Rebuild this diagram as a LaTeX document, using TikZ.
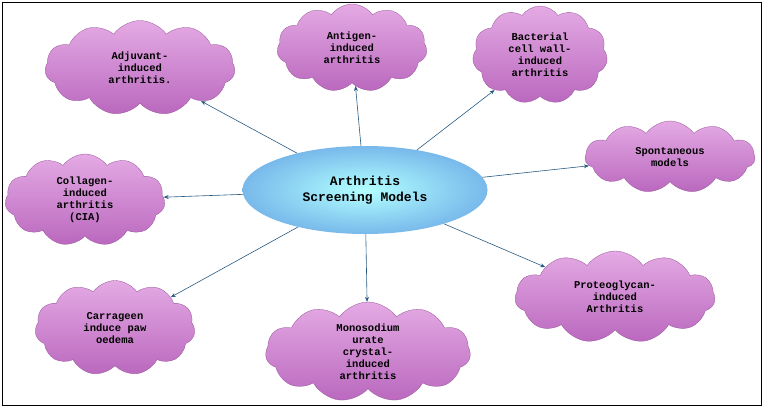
\documentclass[tikz,border=0pt]{standalone}
\usepackage{fontspec}
\setmonofont{Liberation Mono}
\usetikzlibrary{shapes.symbols,shapes.geometric,arrows.meta}
\definecolor{cldA}{RGB}{228,170,228}
\definecolor{cldB}{RGB}{186,104,190}
\definecolor{arr}{RGB}{40,90,130}
\tikzset{
 cld/.style={cloud, cloud puffs=11, cloud puff arc=110, aspect=2, draw=cldB!80!black, line width=0.3pt,
   top color=cldA, bottom color=cldB, align=center, font=\ttfamily\bfseries\fontsize{10.5}{12}\selectfont, inner sep=0pt},
 conn/.style={draw=arr, line width=0.6pt, -{Stealth[length=5pt,width=4pt]}}
}
\begin{document}
\begin{tikzpicture}[x=1pt,y=-1pt]
\useasboundingbox (0,0) rectangle (764,410);
\draw[line width=0.6pt] (2,2) rectangle (761,405);
\node[ellipse, minimum width=245, minimum height=88, draw=none, inner color=cyan!30!white, outer color={rgb,255:red,120;green,185;blue,235}, align=center, font=\ttfamily\bfseries\fontsize{13}{16}\selectfont] (c) at (365,190) {Arthritis\\Screening Models};
\node[cld, minimum width=190, minimum height=95] (adj) at (140,68) {Adjuvant-\\induced\\arthritis.};
\node[cld, minimum width=150, minimum height=88] (ant) at (352,48) {Antigen-\\induced\\arthritis};
\node[cld, minimum width=135, minimum height=98, aspect=1.4] (bac) at (540,55) {Bacterial\\cell wall-\\induced\\arthritis};
\node[cld, minimum width=170, minimum height=72] (spo) at (670,157) {Spontaneous\\models};
\node[cld, minimum width=160, minimum height=92, aspect=1.7] (col) at (85,200) {Collagen-\\induced\\arthritis\\(CIA)};
\node[cld, minimum width=160, minimum height=95, aspect=1.7] (car) at (115,328) {Carrageen\\induce paw\\oedema};
\node[cld, minimum width=205, minimum height=100] (mon) at (368,352) {Monosodium\\urate\\crystal-\\induced\\arthritis};
\node[cld, minimum width=200, minimum height=92] (pro) at (615,297) {Proteoglycan-\\induced\\Arthritis};
\draw[conn] (c) -- (adj);
\draw[conn] (c) -- (ant);
\draw[conn] (c) -- (bac);
\draw[conn] (c) -- (spo);
\draw[conn] (c) -- (col);
\draw[conn] (c) -- (car);
\draw[conn] (c) -- (mon);
\draw[conn] (c) -- (pro);
\end{tikzpicture}
\end{document}
